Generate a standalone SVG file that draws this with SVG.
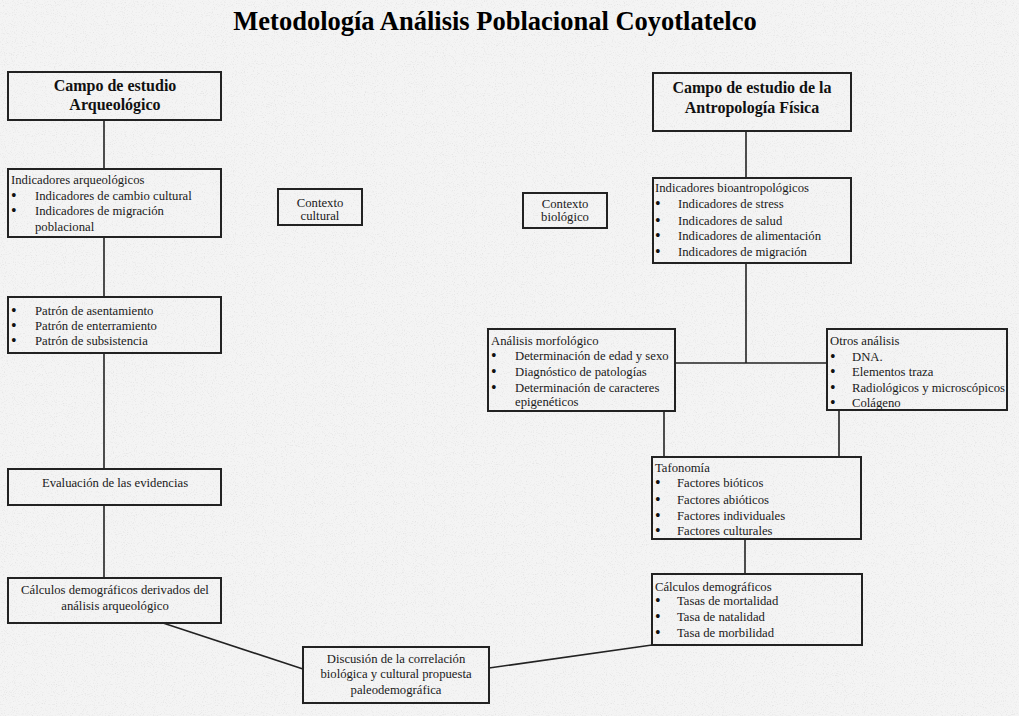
<svg xmlns="http://www.w3.org/2000/svg" width="1019" height="716" viewBox="0 0 1019 716">
<defs>
<filter id="grain" x="0" y="0" width="100%" height="100%">
<feTurbulence type="fractalNoise" baseFrequency="0.9" numOctaves="2" seed="3" result="n"/>
<feColorMatrix in="n" type="matrix" values="0 0 0 0 0.55  0 0 0 0 0.55  0 0 0 0 0.55  0 0 0 -1.6 0.75" result="m"/>
<feComposite in="m" in2="SourceGraphic" operator="in"/>
</filter>
</defs>
<style>
.box{fill:none;stroke:#222;stroke-width:2}
.ln{stroke:#222;stroke-width:1.6;fill:none}
.t{font-family:"Liberation Serif","Times New Roman",serif;font-size:12.7px;fill:#1a1a1a}
.u{font-family:"Liberation Serif","Times New Roman",serif;font-size:16px;fill:#111}
.c{text-anchor:middle}
.b{font-family:"Liberation Serif","Times New Roman",serif;font-size:16px;font-weight:bold;fill:#111;text-anchor:middle}
.title{font-family:"Liberation Serif","Times New Roman",serif;font-size:26.5px;font-weight:bold;fill:#000;text-anchor:middle}
</style>
<rect width="1019" height="716" fill="#f4f4f4"/>
<rect width="1019" height="716" fill="#fff" filter="url(#grain)" opacity="0.6"/>

<text class="title" x="495" y="30">Metodología Análisis Poblacional Coyotlatelco</text>

<g id="connectors">
<line class="ln" x1="104" y1="120" x2="104" y2="169"/>
<line class="ln" x1="104" y1="237" x2="104" y2="297"/>
<line class="ln" x1="104" y1="353" x2="104" y2="469"/>
<line class="ln" x1="104" y1="505" x2="104" y2="578"/>
<line class="ln" x1="163" y1="623" x2="303" y2="669"/>
<line class="ln" x1="489" y1="668" x2="652" y2="645"/>
<line class="ln" x1="746" y1="131" x2="746" y2="178"/>
<line class="ln" x1="746" y1="263" x2="746" y2="363"/>
<line class="ln" x1="675" y1="363" x2="827" y2="363"/>
<line class="ln" x1="664" y1="411" x2="664" y2="457"/>
<line class="ln" x1="839" y1="410" x2="839" y2="457"/>
<line class="ln" x1="745" y1="539" x2="745" y2="574"/>
</g>

<g id="campo-arqueologico">
<rect class="box" x="8" y="72" width="213" height="48"/>
<text class="b" x="115" y="91">Campo de estudio</text>
<text class="b" x="115" y="110">Arqueológico</text>
</g>

<g id="indicadores-arqueologicos">
<rect class="box" x="8" y="169" width="213" height="68"/>
<text class="t" x="11" y="184">Indicadores arqueológicos</text>
<text class="u" x="11" y="201">•</text><text class="t" x="35" y="200">Indicadores de cambio cultural</text>
<text class="u" x="11" y="216">•</text><text class="t" x="35" y="215">Indicadores de migración</text>
<text class="t" x="35" y="231">poblacional</text>
</g>

<g id="patrones">
<rect class="box" x="8" y="297" width="213" height="56"/>
<text class="u" x="11" y="316">•</text><text class="t" x="35" y="315">Patrón de asentamiento</text>
<text class="u" x="11" y="331">•</text><text class="t" x="35" y="330">Patrón de enterramiento</text>
<text class="u" x="11" y="346">•</text><text class="t" x="35" y="345">Patrón de subsistencia</text>
</g>

<g id="evaluacion">
<rect class="box" x="8" y="469" width="213" height="36"/>
<text class="t c" x="115" y="487">Evaluación de las evidencias</text>
</g>

<g id="calculos-arqueologicos">
<rect class="box" x="8" y="578" width="213" height="45"/>
<text class="t c" x="115" y="594">Cálculos demográficos derivados del</text>
<text class="t c" x="115" y="610">análisis arqueológico</text>
</g>

<g id="contexto-cultural">
<rect class="box" x="278" y="189" width="84" height="36"/>
<text class="t c" x="320" y="207">Contexto</text>
<text class="t c" x="320" y="220">cultural</text>
</g>

<g id="contexto-biologico">
<rect class="box" x="523" y="193" width="84" height="35"/>
<text class="t c" x="565" y="208">Contexto</text>
<text class="t c" x="565" y="221">biológico</text>
</g>

<g id="campo-antropologia">
<rect class="box" x="653" y="73" width="198" height="58"/>
<text class="b" x="752" y="93">Campo de estudio de la</text>
<text class="b" x="752" y="113">Antropología Física</text>
</g>

<g id="indicadores-bio">
<rect class="box" x="653" y="178" width="198" height="85"/>
<text class="t" x="655" y="192">Indicadores bioantropológicos</text>
<text class="u" x="655" y="209">•</text><text class="t" x="678" y="208">Indicadores de stress</text>
<text class="u" x="655" y="226">•</text><text class="t" x="678" y="225">Indicadores de salud</text>
<text class="u" x="655" y="241">•</text><text class="t" x="678" y="240">Indicadores de alimentación</text>
<text class="u" x="655" y="257">•</text><text class="t" x="678" y="256">Indicadores de migración</text>
</g>

<g id="analisis-morfologico">
<rect class="box" x="488" y="329" width="187" height="82"/>
<text class="t" x="491" y="345">Análisis morfológico</text>
<text class="u" x="491" y="361">•</text><text class="t" x="515" y="360">Determinación de edad y  sexo</text>
<text class="u" x="491" y="377">•</text><text class="t" x="515" y="376">Diagnóstico de patologías</text>
<text class="u" x="491" y="393">•</text><text class="t" x="515" y="392">Determinación de caracteres</text>
<text class="t" x="515" y="406">epigenéticos</text>
</g>

<g id="otros-analisis">
<rect class="box" x="827" y="329" width="180" height="81"/>
<text class="t" x="830" y="345">Otros análisis</text>
<text class="u" x="830" y="362">•</text><text class="t" x="852" y="361">DNA.</text>
<text class="u" x="830" y="377">•</text><text class="t" x="852" y="376">Elementos traza</text>
<text class="u" x="830" y="393">•</text><text class="t" x="852" y="392">Radiológicos y microscópicos</text>
<text class="u" x="830" y="408">•</text><text class="t" x="852" y="407">Colágeno</text>
</g>

<g id="tafonomia">
<rect class="box" x="652" y="457" width="209" height="82"/>
<text class="t" x="655" y="472">Tafonomía</text>
<text class="u" x="655" y="488">•</text><text class="t" x="677" y="487">Factores bióticos</text>
<text class="u" x="655" y="505">•</text><text class="t" x="677" y="504">Factores abióticos</text>
<text class="u" x="655" y="521">•</text><text class="t" x="677" y="520">Factores individuales</text>
<text class="u" x="655" y="536">•</text><text class="t" x="677" y="535">Factores culturales</text>
</g>

<g id="calculos-demograficos">
<rect class="box" x="652" y="574" width="210" height="71"/>
<text class="t" x="655" y="591">Cálculos demográficos</text>
<text class="u" x="655" y="606">•</text><text class="t" x="677" y="605">Tasas de mortalidad</text>
<text class="u" x="655" y="622">•</text><text class="t" x="677" y="621">Tasa de natalidad</text>
<text class="u" x="655" y="638">•</text><text class="t" x="677" y="637">Tasa de morbilidad</text>
</g>

<g id="discusion">
<rect class="box" x="303" y="647" width="186" height="56"/>
<text class="t c" x="396" y="663">Discusión de la correlación</text>
<text class="t c" x="396" y="678">biológica y cultural propuesta</text>
<text class="t c" x="396" y="694">paleodemográfica</text>
</g>
</svg>
